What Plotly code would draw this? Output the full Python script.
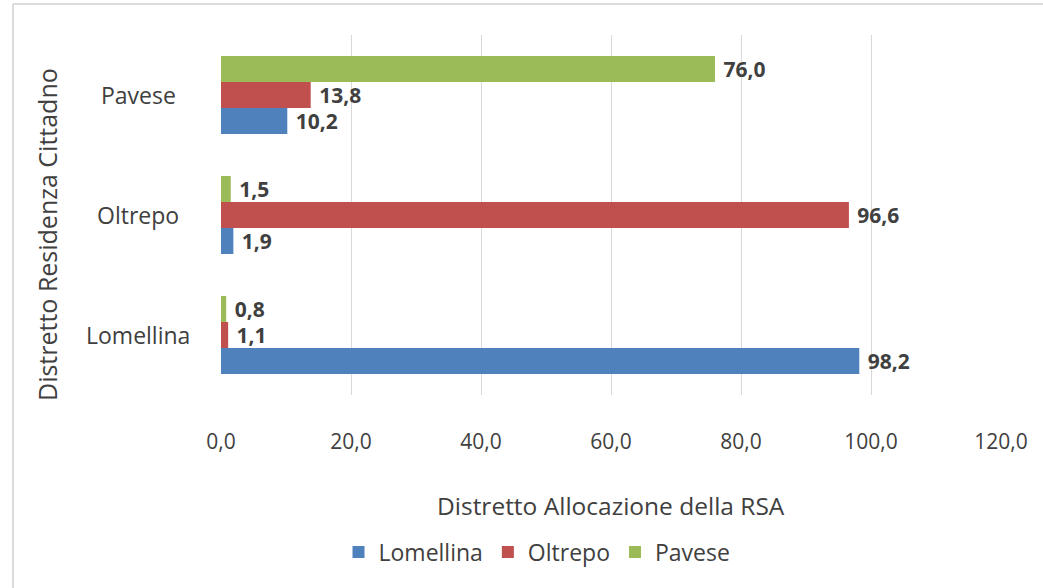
import plotly.graph_objects as go

categories = ["Lomellina", "Oltrepo", "Pavese"]
series_names = ["Lomellina", "Oltrepo", "Pavese"]
lomellina_vals = [98.2, 1.9, 10.2]
oltrepo_vals = [1.1, 96.6, 13.8]
pavese_vals = [0.8, 1.5, 76.0]
x_ticks = [0, 20, 40, 60, 80, 100, 120]
colors = ["#4F81BD", "#C0504D", "#9BBB59"]

FONT = "Open Sans"
TXT = "#404040"

# plot area in pixels
W, H = 1043, 588
L, R, T, B = 221, 1001, 35, 395

def px(x):
    return (x - L) / (R - L)

def py(y):
    return (B - y) / (B - T)

fig = go.Figure()
for name, vals, col in zip(series_names, [lomellina_vals, oltrepo_vals, pavese_vals], colors):
    fig.add_trace(go.Bar(
        y=categories, x=vals, name=name, orientation="h",
        marker=dict(color=col, line=dict(width=0)),
        texttemplate="\u00a0%{x:.1f}", textposition="outside",
        textfont=dict(family=FONT, size=21, color=TXT, weight="bold"),
        constraintext="none", cliponaxis=False,
    ))

annotations = []
for c in categories:
    annotations.append(dict(x=px(138), xref="paper", y=c, yref="y", text=c,
                            showarrow=False, xanchor="center", yanchor="middle",
                            font=dict(family=FONT, size=23, color=TXT)))
annotations.append(dict(x=px(611), xref="paper", y=py(505), yref="paper",
                        text="Distretto Allocazione della RSA", showarrow=False,
                        xanchor="center", yanchor="middle",
                        font=dict(family=FONT, size=24.5, color=TXT)))
annotations.append(dict(x=px(47), xref="paper", y=py(235), yref="paper",
                        text="Distretto Residenza Cittadno", showarrow=False,
                        textangle=-90, xanchor="center", yanchor="middle",
                        font=dict(family=FONT, size=25, color=TXT)))

shapes = [
    dict(type="line", xref="paper", yref="paper", x0=px(13), x1=px(1060), y0=py(4), y1=py(4),
         line=dict(color="#d0d0d0", width=1.5)),
    dict(type="line", xref="paper", yref="paper", x0=px(13), x1=px(13), y0=py(4), y1=py(600),
         line=dict(color="#d0d0d0", width=1.5)),
]

fig.update_layout(
    width=W, height=H,
    margin=dict(l=L, r=W - R, t=T, b=H - B),
    paper_bgcolor="white", plot_bgcolor="white",
    barmode="group", bargap=0.35, bargroupgap=0,
    separators=",.",
    font=dict(family=FONT, color=TXT),
    xaxis=dict(range=[0, 120], tickvals=x_ticks, tickformat=".1f",
               showgrid=True, gridcolor="#d9d9d9", gridwidth=1,
               zeroline=False, showline=False,
               ticklabelstandoff=32,
               tickfont=dict(family=FONT, size=21, color=TXT)),
    yaxis=dict(showticklabels=False, showgrid=False, zeroline=False, showline=False),
    showlegend=True,
    legend=dict(orientation="h", x=px(537), xanchor="center", y=py(552), yanchor="middle",
                font=dict(family=FONT, size=23, color=TXT), traceorder="normal",
                itemclick=False),
    annotations=annotations,
    shapes=shapes,
)
fig.write_html("out.html", config={"displayModeBar": False},
               post_script="document.body.style.margin='0';document.body.style.overflow='hidden';")
